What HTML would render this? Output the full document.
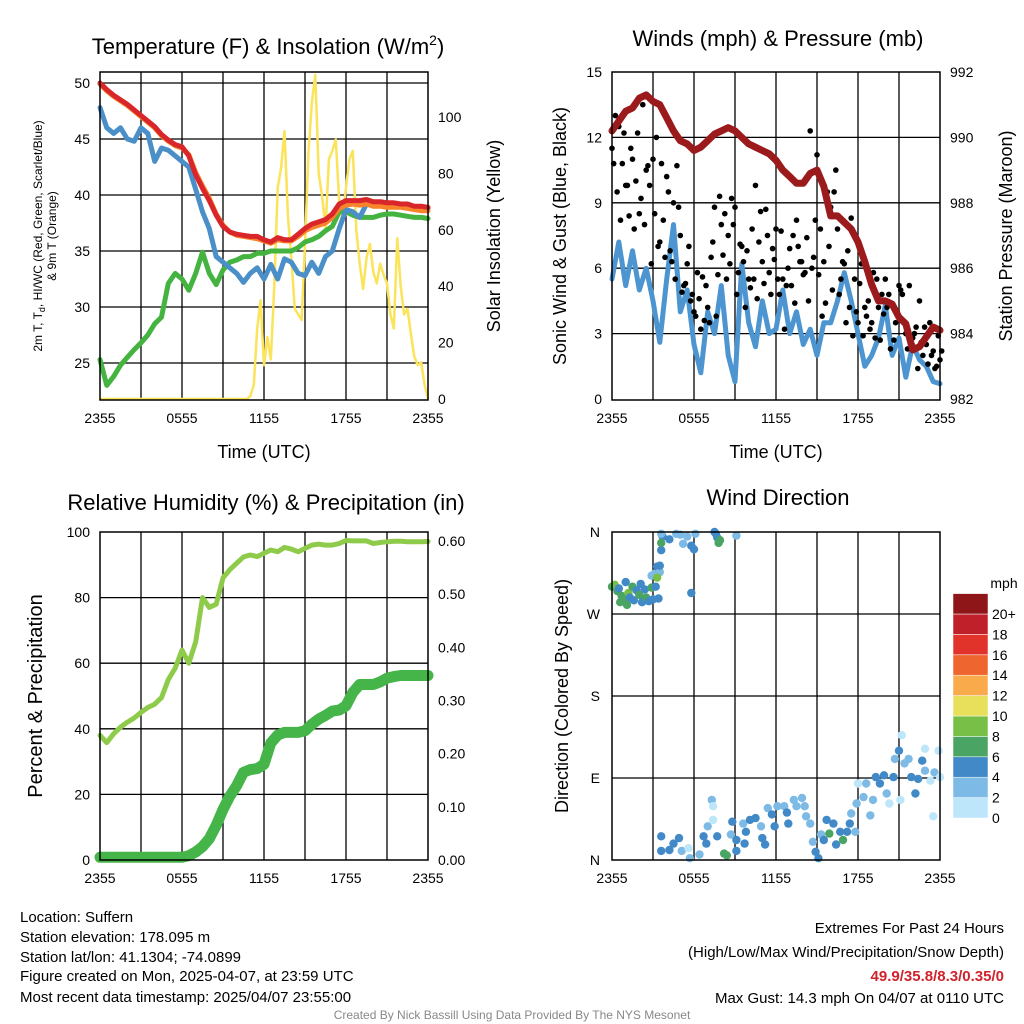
<!DOCTYPE html>
<html><head><meta charset="utf-8"><style>
body{margin:0;background:#fff;}
svg{display:block;font-family:"Liberation Sans",Arial,sans-serif;}
</style></head><body>
<svg id="c" width="1024" height="1024" viewBox="0 0 1024 1024" xmlns="http://www.w3.org/2000/svg">
<rect width="1024" height="1024" fill="#fff"/>
<g id="g"></g>
<g font-size="22" text-anchor="middle" fill="#000">
<text x="268" y="54">Temperature (F) &amp; Insolation (W/m<tspan dy="-9" font-size="14">2</tspan><tspan dy="9">)</tspan></text>
<text x="778" y="46">Winds (mph) &amp; Pressure (mb)</text>
<text x="266" y="510">Relative Humidity (%) &amp; Precipitation (in)</text>
<text x="778" y="505">Wind Direction</text>
</g>
<g font-size="18" text-anchor="middle">
<text x="264" y="458">Time (UTC)</text>
<text x="776" y="458">Time (UTC)</text>
<text transform="translate(500,236) rotate(-90)">Solar Insolation (Yellow)</text>
<text transform="translate(566,236) rotate(-90)">Sonic Wind &amp; Gust (Blue, Black)</text>
<text transform="translate(1012,236) rotate(-90)">Station Pressure (Maroon)</text>
<text transform="translate(568,696) rotate(-90)">Direction (Colored By Speed)</text>
<text transform="translate(42,696) rotate(-90)" font-size="20">Percent &amp; Precipitation</text>
</g>
<g font-size="12" text-anchor="middle">
<text transform="translate(42,236) rotate(-90)">2m T, T<tspan font-size="9" dy="3">d</tspan><tspan dy="-3">, HI/WC (Red, Green, Scarlet/Blue)</tspan></text>
<text transform="translate(56,236) rotate(-90)">&amp; 9m T (Orange)</text>
</g>
<g font-size="15" fill="#000">
<text x="20" y="922">Location: Suffern</text>
<text x="20" y="942">Station elevation: 178.095 m</text>
<text x="20" y="962">Station lat/lon: 41.1304; -74.0899</text>
<text x="20" y="981">Figure created on Mon, 2025-04-07, at 23:59 UTC</text>
<text x="20" y="1002">Most recent data timestamp: 2025/04/07 23:55:00</text>
</g>
<g font-size="15" text-anchor="end">
<text x="1004" y="933">Extremes For Past 24 Hours</text>
<text x="1004" y="957">(High/Low/Max Wind/Precipitation/Snow Depth)</text>
<text x="1004" y="981" fill="#d0232b" font-weight="bold">49.9/35.8/8.3/0.35/0</text>
<text x="1004" y="1003">Max Gust: 14.3 mph On 04/07 at 0110 UTC</text>
</g>
<text x="512" y="1019" font-size="12" fill="#888" text-anchor="middle">Created By Nick Bassill Using Data Provided By The NYS Mesonet</text>
</svg>
<script>
// ---- data ----
const xTickLabels=["2355","0555","1155","1755","2355"];
const tempRed=[50.0,49.4,48.9,48.5,48.1,47.6,47.1,46.6,46.1,45.4,44.9,44.5,44.3,43.5,41.8,40.6,39.5,38.2,37.2,36.7,36.5,36.4,36.3,36.3,36.0,35.8,36.2,36.0,36.0,36.5,37.0,37.4,37.6,37.8,38.3,39.2,39.5,39.5,39.5,39.6,39.4,39.4,39.3,39.3,39.2,39.2,39.0,39.0,38.9];
const tempOrange=[49.9,49.3,48.8,48.4,48.0,47.5,47.0,46.5,46.0,45.3,44.8,44.4,44.2,43.6,42.0,40.8,39.7,38.3,37.3,36.7,36.4,36.3,36.2,36.1,35.9,35.7,36.0,35.9,35.9,36.3,36.8,37.1,37.3,37.5,38.0,38.8,39.1,39.2,39.1,39.2,39.0,39.0,38.9,38.9,38.9,38.8,38.7,38.6,38.6];
const tempBlue=[47.8,46.0,45.5,46.0,45.0,44.8,46.0,45.5,43.0,44.2,44.0,43.5,43.0,42.5,40.5,38.5,37.0,34.5,34.0,33.5,33.0,32.2,33.0,33.5,32.5,33.8,32.5,34.3,34.0,33.0,32.8,34.0,33.0,34.5,35.0,37.0,38.7,38.5,38.0,39.2,39.2,39.2,39.1,39.1,39.0,39.0,38.9,38.9,38.8];
const dewGreen=[25.3,23.0,23.8,24.8,25.5,26.2,26.8,27.5,28.5,29.1,32.1,33.0,32.5,31.5,33.0,34.9,33.0,32.0,33.3,34.0,34.2,34.5,34.5,34.8,34.8,35.0,35.0,35.0,35.0,35.3,35.8,36.0,36.3,36.8,37.2,38.5,38.5,38.2,38.0,38.0,38.0,38.2,38.3,38.3,38.2,38.1,38.0,38.0,37.9];
const solar=[0,0,0,0,0,0,0,0,0,0,0,0,0,0,0,0,0,0,0,0,0,0,0,0,0,0,0,0,0,0,0,0,0,0,0,0,0,0,0,0,0,0,0,0,1,5,25,35,12,22,14,40,75,82,95,65,50,32,30,28,55,87,105,115,80,72,60,85,88,92,70,64,75,85,88,60,48,39,50,55,45,41,48,44,41,30,25,57,40,30,32,23,15,12,13,5,0];
const windSpeed=[5.5,7.2,5.2,6.8,5.0,6.0,4.5,2.6,5.5,8.0,4.0,5.0,2.5,1.2,4.0,3.0,5.2,2.0,0.8,6.2,3.5,2.4,4.5,3.0,3.2,5.0,3.0,4.0,2.5,3.2,2.0,3.5,3.5,4.5,5.8,4.5,3.0,1.5,2.0,2.8,4.3,2.0,2.8,1.0,2.5,1.8,1.5,0.8,0.7];
const pressure=[990.2,990.5,990.8,990.9,991.2,991.3,991.1,991.0,990.6,990.2,989.9,989.8,989.6,989.7,989.9,990.1,990.2,990.3,990.2,990.0,989.8,989.7,989.6,989.5,989.3,989.0,988.8,988.6,988.6,988.9,989.0,988.5,987.6,987.6,987.4,987.2,986.8,986.2,985.5,985.0,985.0,984.9,984.5,984.3,983.5,983.6,983.9,984.2,984.1];
const gustA=[11.5,13,12.5,10.8,9.8,8.4,11,10,8.5,13.5,10.5,9.8,11,12,7.2,8.2,10.2,6.8,9,10.7,7.5,5.2,6.2,4.5,4,5.8,3.2,3.6,4.2,6.5,8.8,5.7,8,8.5,7.5,9.2,8.8,5.8,7,4.2,5.5,7.8,9.8,7.2,6.3,8.7,5.8,6.9,7.8,4.8,5.5,5.2,6.9,7.5,8.2,6.3,5.7,7.4,12.3,6.5,11.2,7.8,6.3,9.5,8.8,9.5,7.8,5.5,6.2,6.8,8.3,5.5,3.5,6.2,4.2,4.5,3.5,2.8,4.2,4.8,5.5,4.8,4.3,3.5,5.2,4.8,3.0,5.2,2.8,3.3,4.5,2.0,2.5,3.5,2.2,1.5,1.8];
const gustB=[10.8,9.5,8.2,12.2,9.8,11.5,7.8,12.2,9.2,8,10.7,6.2,8.5,7,10.8,6.5,9.5,6.3,5.5,8.8,4.9,5.3,7,4.8,3.8,4.6,5.6,5.2,3.5,7.2,3.8,9.3,6.6,5.5,6.2,8,4.8,7.1,6.3,6.8,5.1,5.5,4.6,8.6,5.3,7.5,4.8,6.4,5.5,7.7,3.2,6.0,5.2,4.4,7.0,6.3,5.8,4.5,6.0,8.2,5.7,3.8,4.4,7.0,5.0,10.5,4.8,6.3,3.5,4.2,2.9,4.0,5.3,2.9,3.8,3.2,5.8,5.5,2.7,3.9,4.2,2.3,2.7,4.0,5.0,3.5,2.3,2.5,3.0,1.4,2.6,3.3,1.6,2.0,1.4,2.9,2.2];
const rh=[38,35.8,38.5,40.5,42,43.3,45,46.5,47.5,49.5,55,58.5,64,60,66.5,80,77,78,86,88.5,90.5,92.4,93,92.5,93.5,94.5,94,95.3,94.8,94,95,96,96.3,96,96,96.5,97.4,97.3,97.3,97.3,96.5,96.8,97,97.2,97.2,97,97,97,97.1];
const precip=[0.005,0.005,0.005,0.005,0.005,0.005,0.005,0.005,0.005,0.005,0.005,0.005,0.005,0.008,0.015,0.025,0.04,0.065,0.095,0.12,0.14,0.165,0.17,0.172,0.18,0.22,0.235,0.24,0.24,0.24,0.243,0.255,0.265,0.272,0.28,0.282,0.29,0.315,0.33,0.33,0.33,0.335,0.342,0.345,0.347,0.347,0.347,0.347,0.347];
const dirHours=[0.0,0.2,0.4,0.5,0.7,0.9,1.0,1.2,1.3,1.5,1.6,1.8,2.0,2.2,2.4,2.5,2.7,2.9,3.0,3.2,3.4,2.1,0.6,1.1,2.9,3.1,3.3,3.5,3.3,3.5,3.6,3.7,3.6,4.2,4.7,5.0,5.2,5.5,5.8,6.0,6.1,5.8,7.6,7.7,7.8,7.9,9.1,3.6,7.5,3.6,3.6,4.2,4.5,4.9,5.1,5.6,5.7,6.4,6.7,6.9,7.0,7.3,7.4,7.4,7.7,8.2,8.4,8.7,8.8,9.1,9.1,9.6,9.7,9.8,10.1,10.5,10.9,11.0,11.2,11.4,11.7,11.9,12.1,12.6,12.8,12.9,13.3,13.5,13.9,14.1,14.2,14.5,14.7,14.9,15.1,15.3,15.5,15.7,15.9,16.2,16.4,16.7,16.9,17.2,17.4,17.5,17.8,17.9,18.0,18.4,18.6,18.9,19.1,19.3,19.6,19.9,20.1,20.3,20.6,20.7,21.0,21.1,21.2,21.4,21.7,21.9,22.2,22.4,22.7,22.9,22.9,23.3,23.5,23.6,23.9,24.0];
const dirDeg=[300,302,295,298,290,287,305,293,288,300,285,296,291,283,297,288,284,299,286,300,287,303,283,280,312,314,322,316,310,323,340,355,348,352,358,357,347,355,345,341,358,293,358,354,348,351,356,358,360,26,10,11,18,24,10,13,2,6,26,18,37,66,59,44,26,7,5,28,42,22,10,40,18,31,44,46,37,24,17,57,50,37,59,59,52,40,66,59,68,59,48,40,20,9,2,28,22,44,29,40,17,31,22,31,40,51,31,62,84,69,84,49,66,91,84,93,73,62,91,111,120,66,137,106,111,91,73,89,109,98,122,87,48,96,120,91];
const dirSpeed=[6,8,6,4,6,6,4,8,4,6,4,4,6,4,4,6,4,6,4,4,4,4,6,6,2,2,4,2,8,4,4,4,6,4,2,2,2,2,4,4,2,4,4,4,6,6,2,2,4,4,4,4,4,4,2,0,2,2,4,4,2,2,0,0,4,6,6,2,4,4,4,2,4,4,4,4,2,4,4,2,4,4,2,2,4,4,2,2,2,2,2,2,2,4,4,2,4,4,6,4,4,4,6,4,4,2,2,2,0,2,2,2,2,4,4,4,2,0,4,2,4,0,0,2,2,4,4,4,4,2,0,0,0,2,0,0];
const speedBins=["0","2","4","6","8","10","12","14","16","18","20+"];
const speedColors=["#bde6fa","#7dbbe6","#4289c8","#4aa564","#78bf47","#e8e05a","#f9ab4b","#ef6530","#e2332b","#c0202a","#8e1618"];

// ---- drawing ----
const NS="http://www.w3.org/2000/svg";
const G=document.getElementById('g');
function mk(tag,attrs,parent){const e=document.createElementNS(NS,tag);for(const k in attrs)e.setAttribute(k,attrs[k]);(parent||G).appendChild(e);return e;}
function txt(x,y,s,anchor,size,parent){const t=mk('text',{x:x,y:y,'text-anchor':anchor,'font-size':size},parent);t.textContent=s;return t;}
function lin(d0,d1,r0,r1){return v=>r0+(v-d0)/(d1-d0)*(r1-r0);}
function panel(name,x0,y0){
  const p=mk('g',{});
  
  
  const W=328,H=328;
  for(let k=1;k<8;k++){const l=mk('line',{x1:x0+k*W/8,x2:x0+k*W/8,y1:y0,y2:y0+H,stroke:'#000','stroke-width':1.3},p);
    
    }
  return {p:p,x0:x0,y0:y0,W:W,H:H};
}
function hgrid(P,ys){ys.forEach(y=>{const l=mk('line',{x1:P.x0,x2:P.x0+P.W,y1:y,y2:y,stroke:'#000','stroke-width':1.3},P.p);
  
  });}
function frame(P){const r=mk('rect',{x:P.x0,y:P.y0,width:P.W,height:P.H,fill:'none',stroke:'#000','stroke-width':1.5},P.p);
  
  
  const xs=lin(0,4,P.x0,P.x0+P.W);
  xTickLabels.forEach((s,i)=>{const t=txt(xs(i),P.y0+P.H+23,s,'middle',14,P.p);
    
    });}
function poly(P,arr,xs,ys,color,w,name){
  const pts=arr.map((v,i)=>xs(i).toFixed(1)+','+ys(v).toFixed(1)).join(' ');
  const l=mk('polyline',{points:pts,fill:'none',stroke:color,'stroke-width':w,'stroke-linejoin':'round','stroke-linecap':'round'},P.p);
  
  
  return l;}
function leftTicks(P,vals,ys,fmt){vals.forEach(v=>{const t=txt(P.x0-10,ys(v)+5,fmt(v),'end',14,P.p);
  
  });}
function rightTicks(P,vals,ys,fmt){vals.forEach(v=>{const t=txt(P.x0+P.W+10,ys(v)+5,fmt(v),'start',14,P.p);
  
  });}

// Panel 1
{const P=panel('temperature-panel',100,72);
 const ty=lin(50,25,83,363), sy=lin(0,100,399,117);
 hgrid(P,[50,45,40,35,30,25].map(ty));
 const xs=lin(0,48,100,428), xs2=lin(0,96,100,428);
 poly(P,solar,xs2,sy,'#fbe35a',2.5,'solar-insolation-line');
 poly(P,dewGreen,xs,ty,'#44b33f',5,'dewpoint-line');
 poly(P,tempBlue,xs,ty,'#4a8fc8',5,'windchill-line');
 poly(P,tempOrange,xs,ty,'#f7842a',5,'temp-9m-line');
 poly(P,tempRed,xs,ty,'#d9262a',5,'temp-2m-line');
 frame(P);
 leftTicks(P,[25,30,35,40,45,50],ty,v=>v);
 rightTicks(P,[0,20,40,60,80,100],sy,v=>v);}
// Panel 2
{const P=panel('wind-pressure-panel',612,72);
 const wy=lin(0,15,399,72), py=lin(982,992,399,72);
 hgrid(P,[3,6,9,12].map(wy));
 const xs=lin(0,48,612,940), xs2=lin(0,96,612,940);
 poly(P,windSpeed,xs,wy,'#4d95d0',5,'wind-speed-line');
 [gustA,gustB].forEach(arr=>arr.forEach((v,i)=>{const c=mk('circle',{cx:(xs2(i)+(arr===gustB?1.7:0)).toFixed(1),cy:wy(v).toFixed(1),r:2.8,fill:'#000'},P.p);
   
   }));
 poly(P,pressure,xs,py,'#9b1a1c',7,'pressure-line');
 frame(P);
 leftTicks(P,[0,3,6,9,12,15],wy,v=>v);
 rightTicks(P,[982,984,986,988,990,992],py,v=>v);}
// Panel 3
{const P=panel('humidity-precip-panel',100,532);
 const ry=lin(0,100,860,532), qy=lin(0,0.6,860,541);
 hgrid(P,[20,40,60,80].map(ry));
 const xs=lin(0,48,100,428);
 poly(P,rh,xs,ry,'#8fcb4a',5,'relative-humidity-line');
 poly(P,precip,xs,qy,'#45b549',11,'precipitation-line');
 frame(P);
 leftTicks(P,[0,20,40,60,80,100],ry,v=>v);
 rightTicks(P,[0,0.1,0.2,0.3,0.4,0.5,0.6],qy,v=>v.toFixed(2));}
// Panel 4
{const P=panel('wind-direction-panel',612,532);
 const dy=lin(0,360,860,532), hx=lin(0,24,612,940);
 hgrid(P,[90,180,270].map(dy));
 dirHours.forEach((h,i)=>{const c=mk('circle',{cx:hx(h).toFixed(1),cy:dy(dirDeg[i]).toFixed(1),r:4.2,fill:speedColors[Math.min(10,Math.floor(dirSpeed[i]/2))]},P.p);
   
   });
 frame(P);
 ['N','E','S','W','N'].forEach((s,i)=>{const t=txt(P.x0-12,dy(i*90)+5,s,'end',14,P.p);
   
   });
 const cb=mk('g',{},P.p);
 
 
 const bh=20.4;
 speedBins.forEach((s,i)=>{const y=818-(i+1)*bh;
   const r=mk('rect',{x:953,y:y.toFixed(1),width:35,height:bh.toFixed(1),fill:speedColors[i],stroke:'#fff','stroke-width':0.5},cb);
   
   
   const t=txt(992,y+bh+5,s,'start',14,cb);
   
   });
 const u=txt(1004,588,'mph','middle',14,cb);
 
 }
</script>
</body></html>
